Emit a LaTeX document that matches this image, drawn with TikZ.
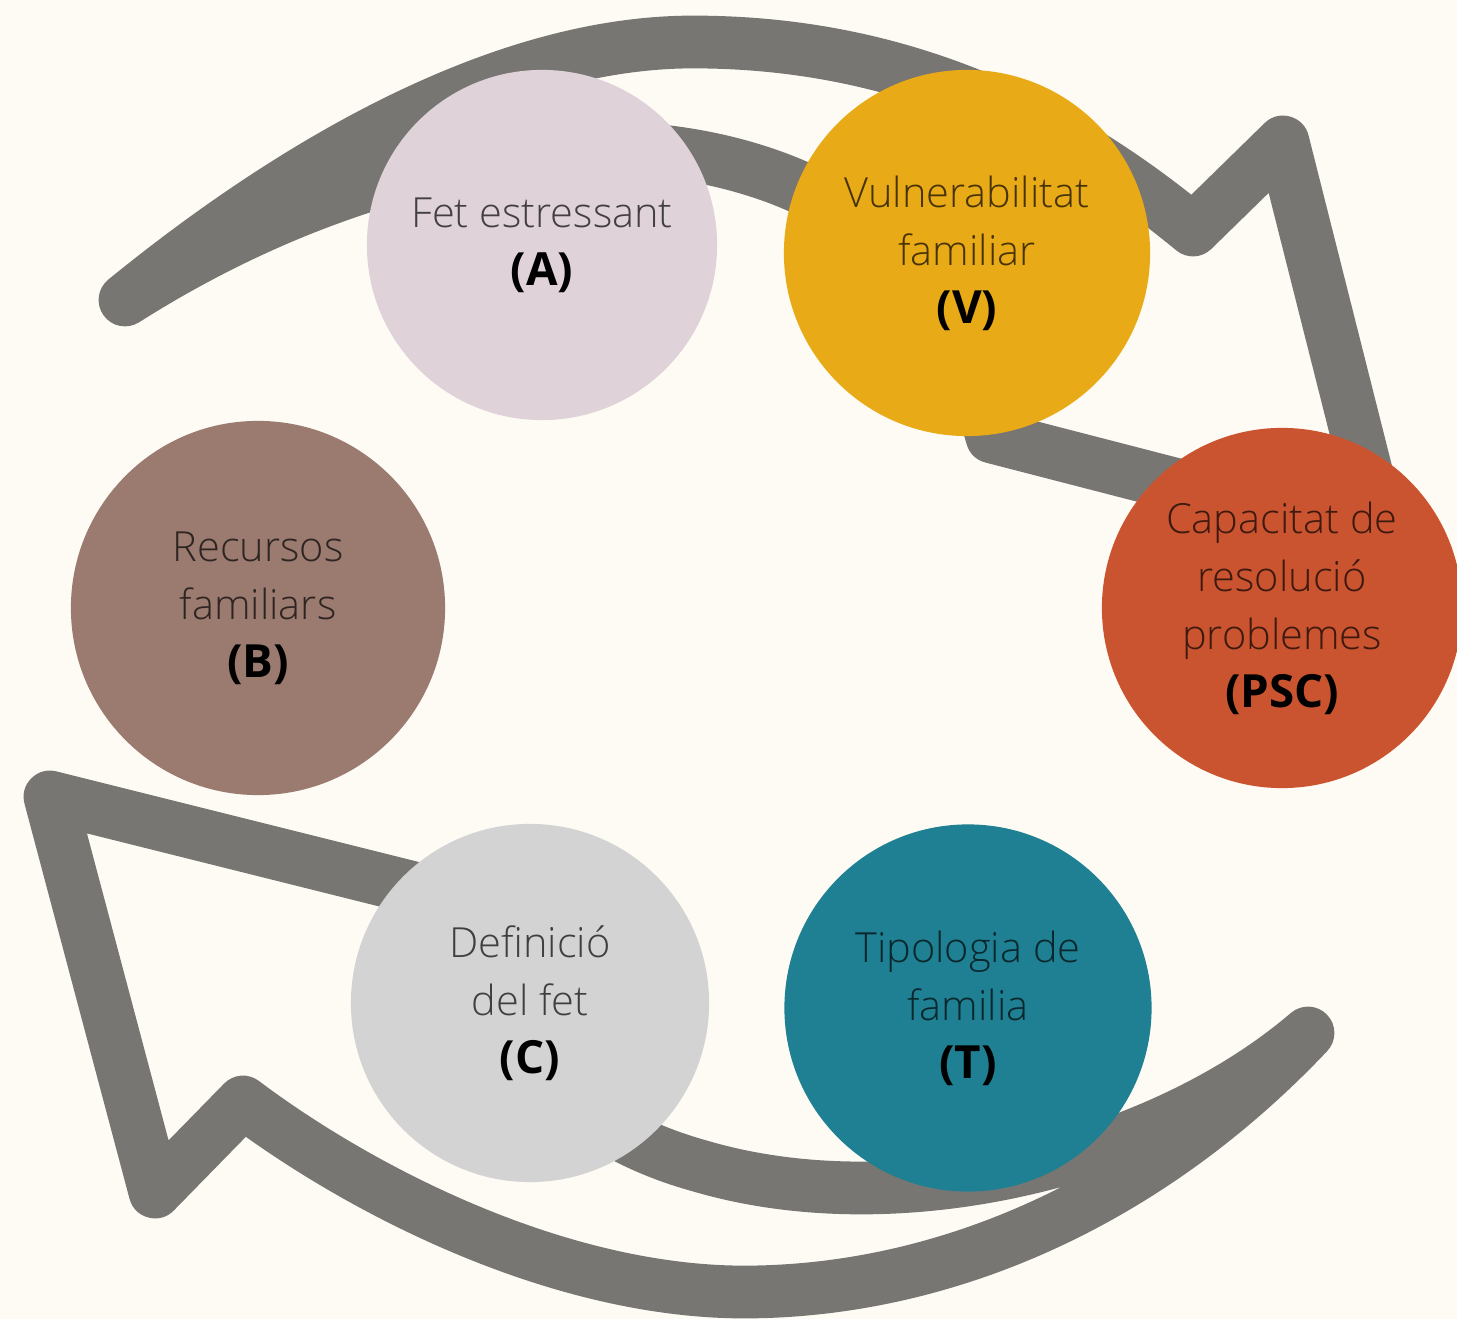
\documentclass[tikz,border=0pt]{standalone}
\usepackage{fontspec}
\setmainfont{Open Sans Light}[BoldFont={Open Sans Bold}]
\definecolor{PaperCream}{RGB}{253,251,244}
\definecolor{ArrowGray}{RGB}{120,118,114}
\definecolor{FetPink}{RGB}{223,210,217}
\definecolor{VulnGold}{RGB}{233,170,23}
\definecolor{RecBrown}{RGB}{155,122,112}
\definecolor{PscRed}{RGB}{203,84,48}
\definecolor{DefGray}{RGB}{211,211,211}
\definecolor{TipTeal}{RGB}{31,128,147}
\newcommand{\flbl}[1]{{\color{black}\fontsize{13}{16.5}\selectfont\bfseries(#1)}}
\tikzset{
  circ/.style={circle,fill=#1,text=black!70!#1,inner sep=0pt,minimum size=3.6cm,
    align=center,font=\fontsize{11.8}{16.5}\selectfont},
  band/.style={draw=ArrowGray,line width=15pt,line join=round},
}

\begin{document}
\begin{tikzpicture}[x=0.01cm,y=-0.01cm]
\useasboundingbox (0,0) rectangle (1457,1319);
\clip (0,0) rectangle (1457,1319);
\fill[PaperCream] (0,0) rectangle (1457,1319);
\coordinate (ut) at (125,300);
\coordinate (utop) at (693,42);
\coordinate (un) at (1193,230);
\coordinate (ub) at (1283,142);
\coordinate (up) at (1383,538);
\coordinate (ui) at (992,437);
\coordinate (uin) at (740,166);
\coordinate (lt) at (1308,1033);
\coordinate (lbot) at (750,1292);
\coordinate (ln) at (243,1102);
\coordinate (lb) at (155,1192);
\coordinate (lp) at (50,797);
\coordinate (li) at (450,897);
\coordinate (lin) at (700,1166);
\draw[band] (ut) .. controls (260,190) and (480,42) .. (utop)
  .. controls (900,42) and (1060,120) .. (un)
  -- (ub) -- (up) -- (ui)
  .. controls (950,290) and (880,205) .. (uin)
  .. controls (560,116) and (330,170) .. (ut) -- cycle;
\draw[band] (lt) .. controls (1150,1200) and (950,1290) .. (lbot)
  .. controls (560,1294) and (360,1190) .. (ln)
  -- (lb) -- (lp) -- (li)
  .. controls (500,1050) and (570,1130) .. (lin)
  .. controls (900,1225) and (1160,1160) .. (lt) -- cycle;
\coordinate (ca) at (542,245);
\coordinate (cv) at (967,253);
\coordinate (cb) at (258,608);
\coordinate (cpsc) at (1282,608);
\coordinate (cc) at (530,1003);
\coordinate (ct) at (968,1008);
\node[circ=FetPink,minimum size=3.5cm] (a) at (ca) {Fet estressant\\\flbl{A}};
\node[circ=VulnGold,minimum size=3.66cm] (v) at (cv) {Vulnerabilitat\\familiar\\\flbl{V}};
\node[circ=RecBrown,minimum size=3.74cm] (b) at (cb) {Recursos\\familiars\\\flbl{B}};
\node[circ=PscRed,minimum size=3.6cm] (psc) at (cpsc) {Capacitat de\\resolució\\problemes\\\flbl{PSC}};
\node[circ=DefGray,minimum size=3.58cm] (c) at (cc) {Definició\\del fet\\\flbl{C}};
\node[circ=TipTeal,minimum size=3.67cm] (t) at (ct) {Tipologia de\\familia\\\flbl{T}};
\end{tikzpicture}
\end{document}
